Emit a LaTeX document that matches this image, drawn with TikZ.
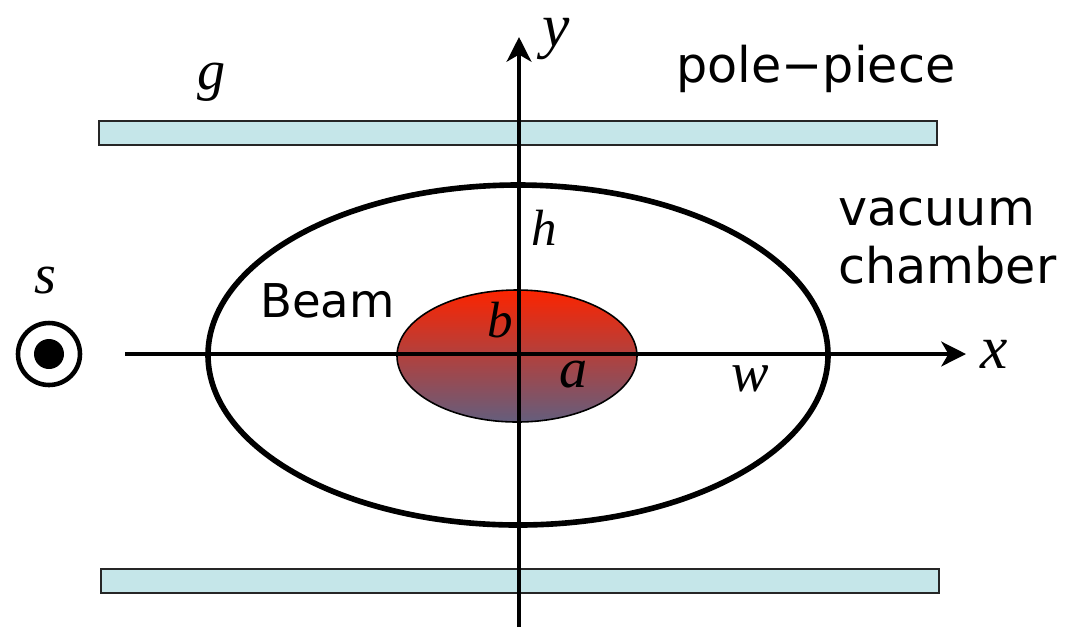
\documentclass[tikz,border=0pt]{standalone}
\usepackage{fontspec}
\setmainfont{Liberation Serif}
\newfontfamily\labfont{DejaVu Sans}
\usetikzlibrary{arrows.meta}
\definecolor{barfill}{RGB}{197,230,233}
\definecolor{beamtop}{RGB}{252,36,0}
\definecolor{beambot}{RGB}{100,94,125}
\tikzset{
  bar/.style={draw=black!85, line width=1.1pt, fill=barfill},
  axis/.style={line width=2.8pt, -{Stealth[length=14pt,width=14pt,inset=4pt]}},
  lab/.style={font=\labfont\fontsize{28}{32}\selectfont, inner sep=0pt, anchor=base west},
  bigm/.style={font=\itshape\fontsize{35}{40}\selectfont, inner sep=0pt, anchor=base},
  midm/.style={font=\itshape\fontsize{32}{36}\selectfont, inner sep=0pt, anchor=base},
  smallm/.style={font=\itshape\fontsize{29}{34}\selectfont, inner sep=0pt, anchor=base},
}
\begin{document}
\begin{tikzpicture}[x=0.02cm,y=-0.02cm]
\useasboundingbox (0,0) rectangle (1071,627);
% pole pieces
\draw[bar] (99,121) rectangle (937,145);
\draw[bar] (101,569) rectangle (939,593);
% vacuum chamber
\draw[line width=3.2pt] (518,355) ellipse [x radius=310, y radius=170];
% beam
\path[top color=beamtop, bottom color=beambot, draw=black, line width=0.9pt] (517,356) ellipse [x radius=120, y radius=66];
% axes
\coordinate (xs) at (125,354);
\coordinate (xe) at (966,354);
\coordinate (ys) at (519,627);
\coordinate (ye) at (519,37);
\draw[axis] (xs) -- (xe);
\draw[axis] (ys) -- (ye);
% s symbol
\node (scirc) [circle, draw, line width=2.6pt, minimum size=1.24cm, inner sep=0pt] at (49,354) {};
\fill (scirc.center) circle [radius=15];
% labels
\node[bigm] (ly) at (556,46) {y};
\node[bigm] (lx) at (994,368) {x};
\node[midm] (ls) at (45,293) {s};
\node[midm] (lg) at (212,89) {g};
\node[smallm] (lh) at (544,245) {h};
\node[smallm] (lb) at (500,337) {b};
\node[midm] (la) at (574,387) {a};
\node[midm] (lw) at (750,391) {w};
\node[lab, font=\labfont\fontsize{26.5}{32}\selectfont] (lbeam) at (260,317) {Beam};
\node[lab] (lpole) at (676,82) {pole−piece};
\node[lab] (lvac) at (838,225) {vacuum};
\node[lab] (lcham) at (838,283) {chamber};
\end{tikzpicture}
\end{document}
